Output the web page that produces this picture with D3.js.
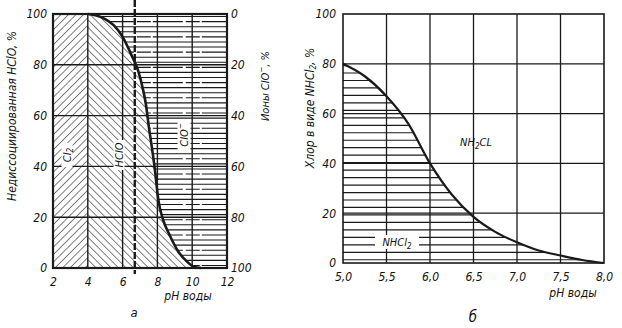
<!DOCTYPE html>
<html><head><meta charset="utf-8">
<script src="https://cdn.jsdelivr.net/npm/d3@7"></script>
<style>
body{margin:0;background:#fff;}
svg{display:block;}
text{font-family:"Liberation Sans Narrow","DejaVu Sans Condensed","Liberation Sans",sans-serif;font-style:italic;fill:#111;}
</style></head><body>
<svg id="c" width="622" height="328"></svg>
<script>
// ---- data (chart a) ----
const leftPH   = [4, 4.5, 5, 5.5, 6, 6.5, 6.9, 7.15, 7.35, 7.5, 7.65, 7.85, 8.05, 8.3, 8.7, 9.2, 9.7, 10.1, 10.5];
const hcloPct  = [100, 99.4, 98, 95.5, 91, 84, 77.5, 71, 64, 56, 49, 39, 27, 19.5, 13, 6.5, 2.5, 0.5, 0];
const leftXTicks = [2, 4, 6, 8, 10, 12];
const leftYTicks = [0, 20, 40, 60, 80, 100];
const rightAxisTicks = [0, 20, 40, 60, 80, 100]; // ClO- % (inverse)
const dashedPH = 6.7;
// ---- data (chart б) ----
const rightPH   = [5.0, 5.25, 5.5, 5.75, 6.0, 6.25, 6.5, 6.75, 7.0, 7.25, 7.5, 7.75, 8.0];
const nhcl2Pct  = [80, 75, 67, 56, 40, 27.5, 18.5, 12.5, 8.3, 5, 3, 1.2, 0];
const rightXTicks = [5.0, 5.5, 6.0, 6.5, 7.0, 7.5, 8.0];
const rightYTicks = [0, 20, 40, 60, 80, 100];

const svg = d3.select("#c");
const ink = "#1a1a1a";
const defs = svg.append("defs");

function hatch(id, angle, gap, w){
  const p = defs.append("pattern").attr("id", id).attr("patternUnits","userSpaceOnUse")
    .attr("width", gap).attr("height", gap).attr("patternTransform", `rotate(${angle})`);
  p.append("line").attr("x1",0).attr("y1",0).attr("x2",0).attr("y2",gap)
    .attr("stroke", ink).attr("stroke-width", w);
}
hatch("fwd", 45, 5.3, 1.1);   // "/"
hatch("bwd", -45, 5.3, 1.1);  // "\"

// ================= Chart a =================
const xa = d3.scaleLinear().domain([2, 12]).range([53, 227]);
const ya = d3.scaleLinear().domain([0, 100]).range([268, 14]);
const ga = svg.append("g");
const pts = leftPH.map((p, i) => [p, hcloPct[i]]);
const ptsExt = pts.concat([[12, 0]]);

defs.append("clipPath").attr("id","clipHClO").append("path")
  .attr("d", d3.area().x(d => xa(d[0])).y0(ya(0)).y1(d => ya(d[1])).curve(d3.curveMonotoneX)(pts));
defs.append("clipPath").attr("id","clipClO").append("path")
  .attr("d", d3.area().x(d => xa(d[0])).y0(ya(100)).y1(d => ya(d[1])).curve(d3.curveMonotoneX)(ptsExt));

// Cl2 region
ga.append("rect").attr("x", xa(2)).attr("y", ya(100)).attr("width", xa(4)-xa(2)).attr("height", ya(0)-ya(100))
  .attr("fill","url(#fwd)");
// HClO region
ga.append("rect").attr("x", xa(4)).attr("y", ya(100)).attr("width", xa(12)-xa(4)).attr("height", ya(0)-ya(100))
  .attr("fill","url(#bwd)").attr("clip-path","url(#clipHClO)");
// ClO- region horizontal lines
ga.append("g").attr("clip-path","url(#clipClO)").selectAll("line").data(d3.range(1, 100, 2)).join("line")
  .attr("x1", xa(4)).attr("x2", xa(12)).attr("y1", d => ya(d)).attr("y2", d => ya(d))
  .attr("stroke", ink).attr("stroke-width", 1.1).attr("stroke-dasharray", (d,i)=> i%3===0 ? "14,2,30,3" : "none");

// grid
ga.append("g").selectAll("line").data([4,6,8,10]).join("line")
  .attr("x1", d => xa(d)).attr("x2", d => xa(d)).attr("y1", ya(0)).attr("y2", ya(100))
  .attr("stroke", ink).attr("stroke-width", 1.4);
ga.append("g").selectAll("line").data([20,40,60,80]).join("line")
  .attr("x1", xa(2)).attr("x2", xa(12)).attr("y1", d => ya(d)).attr("y2", d => ya(d))
  .attr("stroke", ink).attr("stroke-width", 1.4);

// labels inside chart a (rotated)
function rotLabel(g, x, y, txt, size){
  const t = g.append("text").attr("transform", `translate(${x},${y}) rotate(-90)`)
    .attr("text-anchor","middle").attr("dominant-baseline","central").attr("font-size", size);
  return t;
}
function boxed(g, x, y, w, h){
  g.append("rect").attr("x", x - w/2).attr("y", y - h/2).attr("width", w).attr("height", h).attr("fill","#fff");
}
boxed(ga, 67, 155, 11, 24);
let t = rotLabel(ga, 67, 155, "", 11); t.append("tspan").text("Cl"); t.append("tspan").attr("font-size",8).attr("dy",3).text("2");
boxed(ga, 119, 155, 11, 30);
rotLabel(ga, 119, 155, "HClO", 11).text("HClO");
boxed(ga, 184, 135, 13, 30);
t = rotLabel(ga, 184, 135, "", 11); t.append("tspan").text("ClO"); t.append("tspan").attr("font-size",8).attr("dy",-4).text("−");

// curve
ga.append("path").attr("d", d3.line().x(d => xa(d[0])).y(d => ya(d[1])).curve(d3.curveMonotoneX)(pts))
  .attr("fill","none").attr("stroke", ink).attr("stroke-width", 2.6);

// dashed line
ga.append("line").attr("x1", xa(dashedPH)).attr("x2", xa(dashedPH)).attr("y1", 0).attr("y2", ya(0)+6)
  .attr("stroke", ink).attr("stroke-width", 2.4).attr("stroke-dasharray","7,2");

// frame
ga.append("rect").attr("x", xa(2)).attr("y", ya(100)).attr("width", xa(12)-xa(2)).attr("height", ya(0)-ya(100))
  .attr("fill","none").attr("stroke", ink).attr("stroke-width", 2.2);

// axes
ga.append("g").attr("transform", `translate(0,${ya(0)})`)
  .call(d3.axisBottom(xa).tickValues(leftXTicks).tickSize(0).tickPadding(9).tickFormat(d3.format("d")));
ga.append("g").attr("transform", `translate(${xa(2)},0)`)
  .call(d3.axisLeft(ya).tickValues(leftYTicks).tickSize(0).tickPadding(6).tickFormat(d3.format("d")));
const yaR = d3.scaleLinear().domain([100, 0]).range([268, 14]);
ga.append("g").attr("transform", `translate(${xa(12)},0)`)
  .call(d3.axisRight(yaR).tickValues(rightAxisTicks).tickSize(0).tickPadding(4).tickFormat(d3.format("d")));

// titles
ga.append("text").attr("transform", `translate(12,${(20+212)/2}) rotate(-90)`).attr("text-anchor","middle")
  .attr("dominant-baseline","central").attr("font-size", 12).text("Недиссоциированная HClO, %");
t = ga.append("text").attr("transform", `translate(265,86) rotate(-90)`).attr("text-anchor","middle")
  .attr("dominant-baseline","central").attr("font-size", 11);
t.append("tspan").text("Ионы ClO"); t.append("tspan").attr("font-size",8).attr("dy",-4).text("−");
t.append("tspan").attr("dy",4).text(", %");
ga.append("text").attr("x", 188).attr("y", 300).attr("text-anchor","middle").attr("font-size", 12).text("pH воды");
ga.append("text").attr("x", 134).attr("y", 317).attr("text-anchor","middle").attr("font-size", 13).text("а");

// ================= Chart б =================
const xb = d3.scaleLinear().domain([5, 8]).range([343, 604]);
const yb = d3.scaleLinear().domain([0, 100]).range([263, 14]);
const gb = svg.append("g");
const ptsB = rightPH.map((p, i) => [p, nhcl2Pct[i]]);
defs.append("clipPath").attr("id","clipNHCl2").append("path")
  .attr("d", d3.area().x(d => xb(d[0])).y0(yb(0)).y1(d => yb(d[1])).curve(d3.curveMonotoneX)(ptsB));

gb.append("g").attr("clip-path","url(#clipNHCl2)").selectAll("line").data(d3.range(1.3, 80, 3)).join("line")
  .attr("x1", xb(5)).attr("x2", xb(8)).attr("y1", d => yb(d)).attr("y2", d => yb(d))
  .attr("stroke", ink).attr("stroke-width", 1.2);

gb.append("g").selectAll("line").data([5.5,6.0,6.5,7.0,7.5]).join("line")
  .attr("x1", d => xb(d)).attr("x2", d => xb(d)).attr("y1", yb(0)).attr("y2", yb(100))
  .attr("stroke", ink).attr("stroke-width", 1.3);
gb.append("g").selectAll("line").data([20,40,60,80]).join("line")
  .attr("x1", xb(5)).attr("x2", xb(8)).attr("y1", d => yb(d)).attr("y2", d => yb(d))
  .attr("stroke", ink).attr("stroke-width", 1.3);

// labels
boxed(gb, 397, 242, 44, 14);
t = gb.append("text").attr("x", 397).attr("y", 246).attr("text-anchor","middle").attr("font-size", 11);
t.append("tspan").text("NHCl"); t.append("tspan").attr("font-size",8).attr("dy",3).text("2");
t = gb.append("text").attr("x", 476).attr("y", 146).attr("text-anchor","middle").attr("font-size", 11);
t.append("tspan").text("NH"); t.append("tspan").attr("font-size",8).attr("dy",3).text("2");
t.append("tspan").attr("dy",-3).text("CL");

gb.append("path").attr("d", d3.line().x(d => xb(d[0])).y(d => yb(d[1])).curve(d3.curveMonotoneX)(ptsB))
  .attr("fill","none").attr("stroke", ink).attr("stroke-width", 2.2);

gb.append("rect").attr("x", xb(5)).attr("y", yb(100)).attr("width", xb(8)-xb(5)).attr("height", yb(0)-yb(100))
  .attr("fill","none").attr("stroke", ink).attr("stroke-width", 1.6);

gb.append("g").attr("transform", `translate(0,${yb(0)})`)
  .call(d3.axisBottom(xb).tickValues(rightXTicks).tickSize(0).tickPadding(9).tickFormat(d => d3.format(".1f")(d).replace(".", ",")));
gb.append("g").attr("transform", `translate(${xb(5)},0)`)
  .call(d3.axisLeft(yb).tickValues(rightYTicks).tickSize(0).tickPadding(7).tickFormat(d3.format("d")));

t = gb.append("text").attr("transform", `translate(310,108) rotate(-90)`).attr("text-anchor","middle")
  .attr("dominant-baseline","central").attr("font-size", 12);
t.append("tspan").text("Хлор в виде NHCl"); t.append("tspan").attr("font-size",8).attr("dy",3).text("2");
t.append("tspan").attr("dy",-3).text(", %");
gb.append("text").attr("x", 573).attr("y", 297).attr("text-anchor","middle").attr("font-size", 12).text("pH воды");
gb.append("text").attr("x", 473).attr("y", 322).attr("text-anchor","middle").attr("font-size", 15).text("б");

// axis styling
svg.selectAll(".domain").remove();
svg.selectAll(".tick text").attr("font-size", 12).attr("font-family", null).style("font-style","italic").attr("fill", ink);
</script>
</body></html>
